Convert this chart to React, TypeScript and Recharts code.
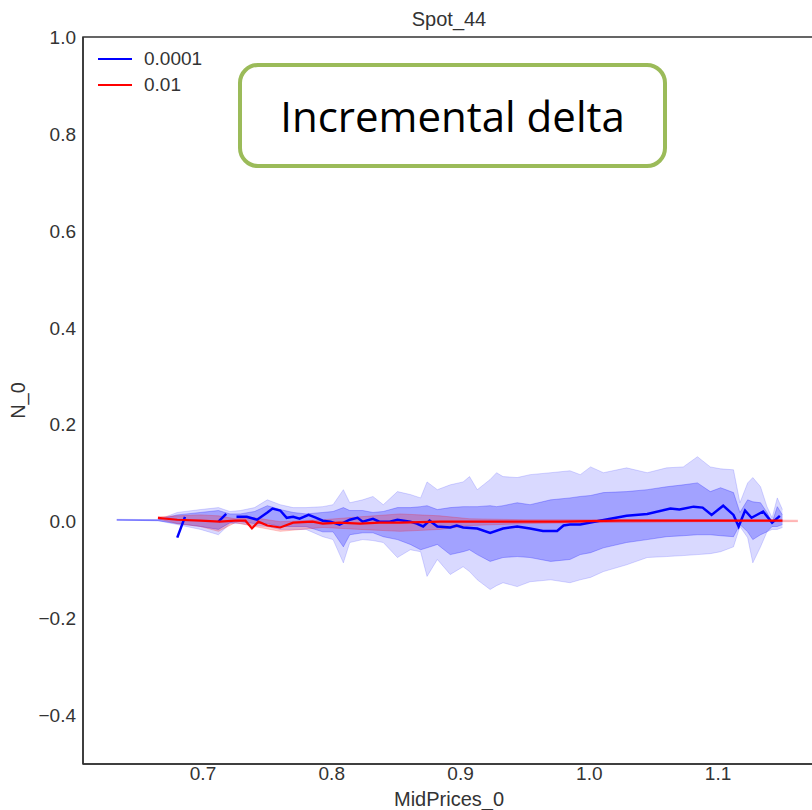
import { ComposedChart, Area, Line, XAxis, YAxis, ReferenceArea } from "recharts";

// band grid (MidPrices_0) for the 0.0001 run
const mid = [0.633, 0.665, 0.68, 0.698, 0.712, 0.721, 0.729, 0.74, 0.75, 0.76, 0.77, 0.78, 0.793, 0.801, 0.809, 0.814, 0.824, 0.832, 0.84, 0.851, 0.861, 0.869, 0.874, 0.882, 0.892, 0.902, 0.907, 0.913, 0.923, 0.928, 0.933, 0.944, 0.954, 0.97, 0.985, 0.993, 1.001, 1.011, 1.029, 1.045, 1.06, 1.073, 1.084, 1.094, 1.102, 1.112, 1.117, 1.123, 1.127, 1.133, 1.138, 1.142, 1.146, 1.15];
const outerHi = [0.005, 0.004, 0.019, 0.025, 0.029, 0.021, 0.023, 0.029, 0.045, 0.035, 0.029, 0.029, 0.031, 0.035, 0.066, 0.039, 0.045, 0.052, 0.035, 0.062, 0.056, 0.049, 0.082, 0.066, 0.076, 0.082, 0.093, 0.066, 0.087, 0.101, 0.093, 0.091, 0.097, 0.101, 0.105, 0.097, 0.113, 0.101, 0.111, 0.101, 0.111, 0.113, 0.134, 0.113, 0.109, 0.107, 0.039, 0.08, 0.091, 0.072, 0.031, 0.008, 0.049, 0.025];
const outerLo = [0.003, 0.002, -0.006, -0.016, -0.027, -0.004, -0.004, -0.008, -0.01, -0.016, -0.016, -0.016, -0.031, -0.037, -0.085, -0.043, -0.037, -0.039, -0.043, -0.074, -0.058, -0.062, -0.113, -0.078, -0.109, -0.093, -0.103, -0.12, -0.14, -0.132, -0.126, -0.134, -0.124, -0.12, -0.126, -0.12, -0.115, -0.103, -0.089, -0.074, -0.072, -0.07, -0.068, -0.066, -0.062, -0.052, -0.01, -0.033, -0.085, -0.052, -0.021, -0.016, -0.016, -0.012];
const innerHi = [0.004, 0.004, 0.014, 0.019, 0.023, 0.016, 0.016, 0.021, 0.033, 0.025, 0.019, 0.016, 0.019, 0.021, 0.029, 0.023, 0.023, 0.019, 0.021, 0.029, 0.029, 0.031, 0.033, 0.025, 0.029, 0.031, 0.031, 0.031, 0.033, 0.031, 0.033, 0.039, 0.035, 0.045, 0.049, 0.052, 0.054, 0.06, 0.062, 0.066, 0.072, 0.076, 0.08, 0.062, 0.07, 0.06, 0.019, 0.045, 0.041, 0.039, 0.019, -0.002, 0.031, 0.014];
const innerLo = [0.003, 0.002, -0.004, -0.01, -0.016, -0.002, 0.0, -0.004, -0.004, -0.01, -0.01, -0.01, -0.021, -0.021, -0.052, -0.027, -0.023, -0.023, -0.031, -0.037, -0.047, -0.058, -0.054, -0.047, -0.068, -0.062, -0.058, -0.068, -0.082, -0.078, -0.074, -0.072, -0.074, -0.082, -0.078, -0.068, -0.064, -0.054, -0.043, -0.037, -0.031, -0.029, -0.027, -0.027, -0.029, -0.031, -0.006, -0.021, -0.037, -0.027, -0.021, -0.01, -0.01, -0.006];

// mean of the 0.0001 run (null = gap)
const meanX = [0.68, 0.686, 0.7, 0.712, 0.718, 0.722, 0.726, 0.734, 0.742, 0.75, 0.754, 0.76, 0.765, 0.77, 0.775, 0.782, 0.788, 0.793, 0.799, 0.806, 0.814, 0.82, 0.824, 0.832, 0.837, 0.845, 0.851, 0.861, 0.866, 0.871, 0.876, 0.882, 0.892, 0.897, 0.902, 0.913, 0.923, 0.933, 0.944, 0.954, 0.964, 0.975, 0.98, 0.985, 0.993, 1.008, 1.029, 1.045, 1.063, 1.07, 1.081, 1.088, 1.095, 1.104, 1.112, 1.116, 1.121, 1.126, 1.135, 1.142, 1.148];
const meanY = [-0.033, 0.01, null, 0.0, 0.016, null, 0.01, 0.01, 0.004, 0.019, 0.027, 0.023, 0.008, 0.01, 0.006, 0.014, 0.008, 0.002, 0.0, -0.006, 0.004, 0.008, 0.0, 0.006, 0.0, 0.0, 0.004, 0.0, -0.004, -0.01, 0.002, -0.01, -0.012, -0.008, -0.012, -0.014, -0.023, -0.014, -0.01, -0.014, -0.019, -0.019, -0.008, -0.006, -0.006, 0.002, 0.012, 0.016, 0.027, 0.025, 0.031, 0.029, 0.014, 0.033, 0.014, -0.01, 0.023, 0.008, 0.021, -0.002, 0.012];

// 0.01 run
const redX = [0.665, 0.68, 0.698, 0.713, 0.725, 0.733, 0.738, 0.743, 0.75, 0.76, 0.77, 0.785, 0.793, 0.806, 0.822, 0.837, 0.853, 0.884, 0.931, 0.977, 1.024, 1.086, 1.15];
const redY = [0.008, 0.004, 0.002, 0.0, 0.002, 0.002, -0.014, 0.0, -0.008, -0.012, -0.002, 0.0, -0.004, -0.002, -0.004, -0.002, -0.002, 0.0, 0.0, 0.0, 0.002, 0.002, 0.002];
const redBandX = [0.665, 0.68, 0.698, 0.712, 0.725, 0.74, 0.76, 0.793, 0.822, 0.853, 0.884, 0.907, 0.95, 1.0, 1.1, 1.162];
const redLo = [0.006, -0.004, -0.01, -0.02, -0.002, -0.01, -0.02, -0.012, -0.016, -0.02, -0.016, -0.008, -0.004, -0.002, 0.0, 0.0];
const redHi = [0.01, 0.012, 0.014, 0.012, 0.006, 0.008, 0.0, 0.004, 0.01, 0.016, 0.012, 0.006, 0.004, 0.004, 0.004, 0.003];

const xTicks = [0.7, 0.8, 0.9, 1.0, 1.1];
const yTicks = [-0.4, -0.2, 0.0, 0.2, 0.4, 0.6, 0.8, 1.0];
const legendItems = [
  { name: "0.0001", color: "#0000ff" },
  { name: "0.01", color: "#ff0000" },
];

const X_DOMAIN = [0.6068, 1.1753];
const Y_DOMAIN = [-0.5, 1.0];
const FONT = "'Liberation Sans', sans-serif";
const TEXT = "#333";

const bandRows = mid.map((x, i) => ({ x, outer: [outerLo[i], outerHi[i]], inner: [innerLo[i], innerHi[i]] }));
const meanRows = meanX.map((x, i) => ({ x, y: meanY[i] }));
const redRows = redX.map((x, i) => ({ x, y: redY[i] }));
const redBandRows = redBandX.map((x, i) => ({ x, band: [redLo[i], redHi[i]] }));

const fmt = (v: number) => (v < 0 ? "\u2212" + Math.abs(v).toFixed(1) : v.toFixed(1));

export default function App() {
  return (
    <div style={{ position: "absolute", left: 0, top: 0, width: 812, height: 810, overflow: "hidden", background: "#fff", fontFamily: FONT }}>
      <div style={{ position: "absolute", left: 83, width: 732, top: 7, textAlign: "center", fontSize: 20, color: TEXT, lineHeight: "24px" }}>
        Spot_44
      </div>
      <ComposedChart width={830} height={810} margin={{ top: 37, right: 15, bottom: 16, left: 8 }}>
        <XAxis
          type="number"
          dataKey="x"
          domain={X_DOMAIN}
          allowDataOverflow
          ticks={xTicks}
          tickFormatter={fmt}
          height={30}
          tickLine={false}
          tickSize={0}
          tickMargin={3}
          axisLine={{ stroke: TEXT, strokeWidth: 1.5 }}
          tick={{ fill: TEXT, fontSize: 19, fontFamily: FONT }}
          label={{ value: "MidPrices_0", position: "bottom", offset: -2, fill: TEXT, fontSize: 20, fontFamily: FONT }}
        />
        <YAxis
          type="number"
          domain={Y_DOMAIN}
          allowDataOverflow
          ticks={yTicks}
          tickFormatter={fmt}
          width={75}
          tickLine={false}
          tickSize={0}
          tickMargin={7}
          axisLine={{ stroke: TEXT, strokeWidth: 1.5 }}
          tick={{ fill: TEXT, fontSize: 19, fontFamily: FONT }}
          label={{ value: "N_0", angle: -90, position: "insideLeft", offset: 10, fill: TEXT, fontSize: 20, fontFamily: FONT, style: { textAnchor: "middle" } }}
        />
        <ReferenceArea x1={X_DOMAIN[0]} x2={X_DOMAIN[1]} y1={Y_DOMAIN[0]} y2={Y_DOMAIN[1]} fill="none" stroke={TEXT} strokeWidth={1.5} />
        <Area data={bandRows} dataKey="outer" type="linear" fill="#0000ff" fillOpacity={0.15} stroke="#0000ff" strokeOpacity={0.15} strokeWidth={1} isAnimationActive={false} dot={false} activeDot={false} />
        <Area data={bandRows} dataKey="inner" type="linear" fill="#0000ff" fillOpacity={0.25} stroke="#0000ff" strokeOpacity={0.25} strokeWidth={1} isAnimationActive={false} dot={false} activeDot={false} />
        <Line data={meanRows} dataKey="y" type="linear" stroke="#0000ff" strokeWidth={2.5} dot={false} activeDot={false} connectNulls={false} isAnimationActive={false} />
        <Area data={redBandRows} dataKey="band" type="linear" fill="#ff0000" fillOpacity={0.2} stroke="#ff0000" strokeOpacity={0.2} strokeWidth={1} isAnimationActive={false} dot={false} activeDot={false} />
        <Line data={redRows} dataKey="y" type="linear" stroke="#ff0000" strokeWidth={2.2} dot={false} activeDot={false} isAnimationActive={false} />
      </ComposedChart>
      {legendItems.map((item, i) => (
        <div key={item.name} style={{ position: "absolute", left: 98, top: 48 + i * 26, height: 22, display: "flex", alignItems: "center" }}>
          <div style={{ width: 34, height: 2, background: item.color }} />
          <span style={{ marginLeft: 12, fontSize: 19, color: TEXT }}>{item.name}</span>
        </div>
      ))}
      <div
        style={{
          position: "absolute",
          left: 238,
          top: 63,
          width: 429,
          height: 105,
          boxSizing: "border-box",
          border: "4.5px solid #9bbb59",
          borderRadius: 20,
          background: "#fff",
          display: "flex",
          alignItems: "center",
          justifyContent: "center",
          fontFamily: "'Open Sans', sans-serif",
          fontSize: 42,
          color: "#000",
        }}
      >
        Incremental delta
      </div>
    </div>
  );
}
